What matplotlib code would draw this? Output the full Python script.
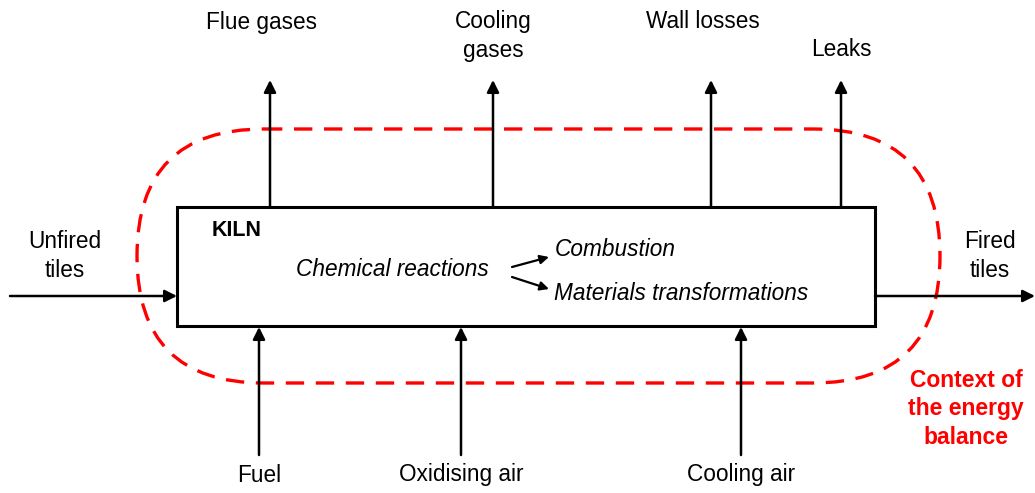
import matplotlib.pyplot as plt
from matplotlib.patches import Rectangle, FancyBboxPatch

plt.rcParams['font.family'] = ['Liberation Sans', 'DejaVu Sans']

# Ausgaenge oben (Beschriftung, x-Position)
out_labels = ["Flue gases", "Cooling\ngases", "Wall losses", "Leaks"]
out_x = [270, 493, 711, 841]
out_label_x = [262, 493, 703, 841]
out_label_y = [22, 36, 22, 50]

# Eingaenge unten
in_labels = ["Fuel", "Oxidising air", "Cooling air"]
in_x = [259, 461, 741]

# Ofen-Kasten (links, oben, rechts, unten) in Pixeln
kiln = [177, 207, 875, 326]
# Bilanzgrenze (gestrichelt)
ctx = [137, 129, 940, 383]

flow_y = 296
fs = 16.3

fig = plt.figure(figsize=(10.35, 4.93), dpi=100)
ax = fig.add_axes([0, 0, 1, 1])
ax.set_xlim(0, 1035)
ax.set_ylim(493, 0)
ax.axis("off")

arrow = dict(arrowstyle="-|>", mutation_scale=18, lw=1.8, color="black",
             shrinkA=0, shrinkB=0)

# Kasten
ax.add_patch(Rectangle((kiln[0], kiln[1]), kiln[2] - kiln[0], kiln[3] - kiln[1],
                       fill=False, lw=2.2, ec="black", zorder=3))

# gestrichelte Bilanzgrenze
h = ctx[3] - ctx[1]
ax.add_patch(FancyBboxPatch((ctx[0], ctx[1]), ctx[2] - ctx[0], h,
                            boxstyle="round,pad=0,rounding_size=%f" % (h / 2),
                            fill=False, ec="#ff0000", lw=2.4,
                            linestyle=(0, (5.5, 3.5)), zorder=2))

# Pfeile nach oben aus dem Kasten
for lab, x, lx, ly in zip(out_labels, out_x, out_label_x, out_label_y):
    ax.annotate("", xy=(x, 80), xytext=(x, kiln[1]), arrowprops=arrow)
    ax.text(lx, ly, lab, ha="center", va="center", fontsize=fs,
            linespacing=1.35)

# Pfeile von unten in den Kasten
for lab, x in zip(in_labels, in_x):
    ax.annotate("", xy=(x, kiln[3] + 1), xytext=(x, 455), arrowprops=arrow)
    ax.text(x, 475, lab, ha="center", va="center", fontsize=fs)

# Fliesen rein / raus
ax.annotate("", xy=(kiln[0], flow_y), xytext=(10, flow_y), arrowprops=arrow)
ax.annotate("", xy=(1035, flow_y), xytext=(kiln[2], flow_y), arrowprops=arrow)
ax.text(65, 256, "Unfired\ntiles", ha="center", va="center", fontsize=fs,
        linespacing=1.35)
ax.text(990, 256, "Fired\ntiles", ha="center", va="center", fontsize=fs,
        linespacing=1.35)

# Beschriftungen im Kasten
ax.text(212, 231, "KILN", ha="left", va="center", fontsize=15.5,
        fontweight="bold")
ax.text(392, 270, "Chemical reactions", ha="center", va="center",
        fontsize=fs, style="italic")
small = dict(arrowstyle="-|>", mutation_scale=13, lw=1.6, color="black",
             shrinkA=0, shrinkB=0)
ax.annotate("", xy=(549, 257), xytext=(512, 267), arrowprops=small)
ax.annotate("", xy=(549, 289), xytext=(512, 277), arrowprops=small)
ax.text(555, 249, "Combustion", ha="left", va="center", fontsize=fs,
        style="italic")
ax.text(554, 294, "Materials transformations", ha="left", va="center",
        fontsize=fs, style="italic")

ax.text(966, 409, "Context of\nthe energy\nbalance", ha="center", va="center",
        fontsize=16.5, fontweight="bold", color="#ff0000", linespacing=1.3)

fig.savefig("out.png", dpi=100)
